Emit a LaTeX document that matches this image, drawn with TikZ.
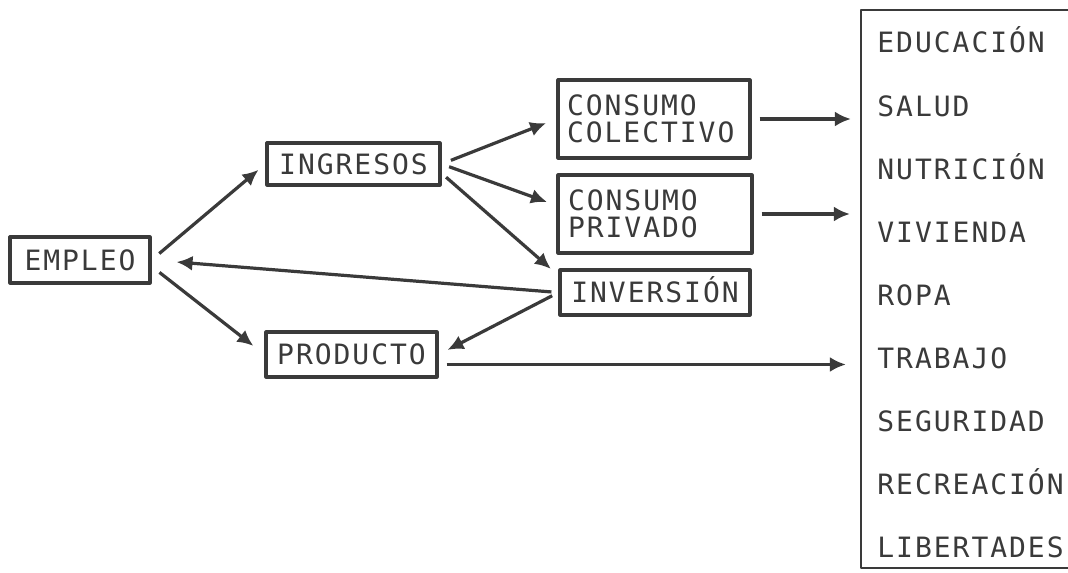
\documentclass[tikz,border=0pt]{standalone}
\usepackage{fontspec}
\newfontfamily\rotulo[LetterSpace=7]{DejaVu Sans Mono}
\usepackage{xcolor}
\usetikzlibrary{arrows.meta}
\definecolor{tinta}{HTML}{3A3A3A}

\begin{document}
\begin{tikzpicture}[x=0.5pt, y=-0.5pt, line join=round,
    letra/.style={inner sep=0pt, text=tinta, font=\rotulo\fontsize{14}{13.75}\selectfont},
    caja/.style={letra, draw=tinta, line width=1.6pt, text height=10.2pt, text depth=0pt},
    caja2/.style={letra, draw=tinta, line width=1.6pt, align=left, text width=87pt},
    flecha/.style={draw=tinta, line width=1.6pt, -{Latex[length=8pt,width=7.5pt]}}]
    \fill[white] (0,0) rectangle (1068,572);
    \useasboundingbox (0,0) rectangle (1068,572);
    \node[caja, minimum width=70pt, minimum height=23pt] (empleo) at (80,260) {EMPLEO};
    \node[caja, minimum width=86.5pt, minimum height=21pt] (ingresos) at (353.5,164) {INGRESOS};
    \node[caja2, minimum width=96pt, minimum height=39pt] (colectivo) at (654,119) {CONSUMO\\COLECTIVO};
    \node[caja2, minimum width=97pt, minimum height=39pt] (privado) at (655,214) {CONSUMO\\PRIVADO};
    \node[caja, minimum width=95pt, minimum height=22.5pt] (inversion) at (655,292.5) {INVERSIÓN};
    \node[caja, minimum width=85.5pt, minimum height=22.5pt] (producto) at (351.5,354.5) {PRODUCTO};
    \node[draw=tinta, line width=1.1pt, minimum width=120pt, minimum height=279pt, inner sep=0pt] (lista) at (981,289) {};
    \foreach \dato [count=\i] in {EDUCACIÓN,SALUD,NUTRICIÓN,VIVIENDA,ROPA,TRABAJO,SEGURIDAD,RECREACIÓN,LIBERTADES}
        \node[letra, anchor=base west] (item\i) at (877,{53+63.1*(\i-1)}) {\dato};
    \draw[flecha, shorten <=5pt, shorten >=4.5pt] (empleo.east) -- (ingresos.west);
    \draw[flecha, shorten <=5pt, shorten >=7pt] (empleo.-5) -- (producto.west);
    \draw[flecha, shorten <=3.5pt, shorten >=12.5pt] (inversion.west) -- (empleo.east);
    \draw[flecha, shorten <=3.5pt, shorten >=5pt] (inversion.west) -- (producto.east);
    \draw[flecha, shorten <=5pt, shorten >=5.5pt] (ingresos.east) -- (colectivo.west);
    \draw[flecha, shorten <=4pt, shorten >=5pt] (ingresos.east) -- (privado.175);
    \draw[flecha, shorten <=3pt, shorten >=5pt] (ingresos.-6) -- (inversion.170);
    \draw[flecha, shorten <=4pt, shorten >=4.5pt] (colectivo.east) -- (colectivo.east -| lista.west);
    \draw[flecha, shorten <=4pt, shorten >=5pt] (privado.east) -- (privado.east -| lista.west);
    \coordinate (salida) at ([yshift=-5pt]producto.east);
    \draw[flecha, shorten <=4pt, shorten >=7pt] (salida) -- (salida -| lista.west);
\end{tikzpicture}
\end{document}
